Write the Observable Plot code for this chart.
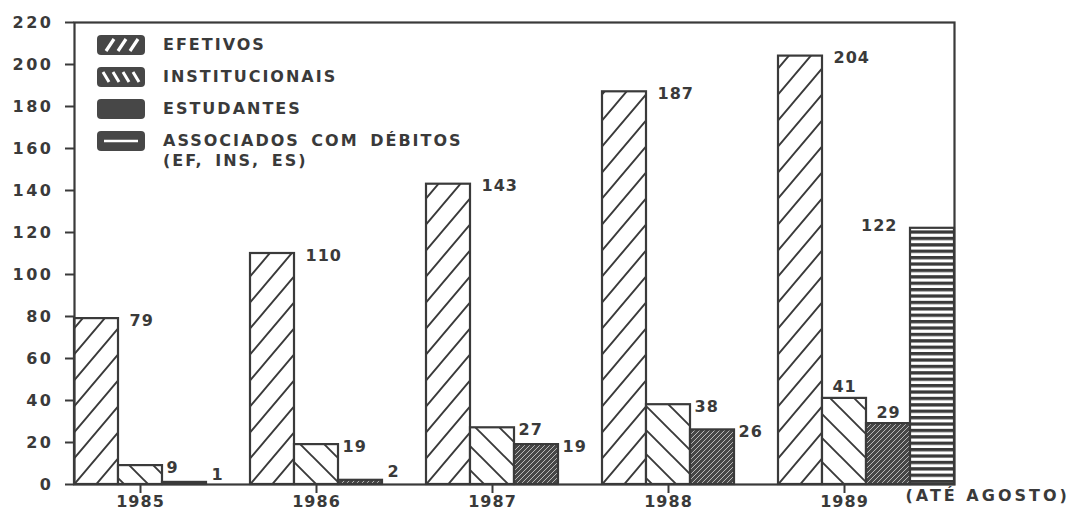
<!DOCTYPE html>
<html><head><meta charset="utf-8">
<script src="https://cdn.jsdelivr.net/npm/d3@7"></script>
<script src="https://cdn.jsdelivr.net/npm/@observablehq/plot@0.6"></script>
<style>
html,body{margin:0;padding:0;background:#fff;}
#wrap{position:relative;width:1079px;height:518px;}
#chart svg text{letter-spacing:1px;}
#chart svg g[aria-label="y-axis tick label"] text{letter-spacing:2.5px;}
#legend{position:absolute;left:97px;top:35px;}
#legend .lg-swatches{display:flex;flex-direction:column;align-items:flex-start;gap:12px;margin:0;min-height:0;font:bold 16px "DejaVu Sans",sans-serif;color:#3a3a3a;letter-spacing:2px;}
#legend .lg-swatch{display:flex;align-items:flex-start;margin:0;line-height:20px;white-space:pre;word-spacing:4px;}
#legend .lg-swatch>svg{margin-right:18px;}
#legend rect{rx:4px;ry:4px;}
</style></head>
<body>
<svg width="0" height="0" style="position:absolute">
<defs>
<pattern id="pEf" patternUnits="userSpaceOnUse" width="22" height="26">
<rect width="22" height="26" fill="#fff"/>
<path d="M0,26L22,0M-3,3.55L3,-3.55M19,29.55L25,22.45" stroke="#3a3a3a" stroke-width="1.9" fill="none"/>
</pattern>
<pattern id="pIn" patternUnits="userSpaceOnUse" width="24" height="24">
<rect width="24" height="24" fill="#fff"/>
<path d="M0,0L24,24M21,-3L27,3M-3,21L3,27" stroke="#3a3a3a" stroke-width="1.9" fill="none"/>
</pattern>
<pattern id="pEs" patternUnits="userSpaceOnUse" width="5" height="5">
<rect width="5" height="5" fill="#474747"/>
<path d="M0,5L5,0M-1,1L1,-1M4,6L6,4" stroke="#fff" stroke-width="0.9" stroke-opacity="0.7" fill="none"/>
</pattern>
<pattern id="pAs" patternUnits="userSpaceOnUse" width="10" height="6.4">
<rect width="10" height="6.4" fill="#fff"/>
<rect width="10" height="3.3" fill="#3a3a3a"/>
</pattern>
<pattern id="lgEf" patternUnits="userSpaceOnUse" width="48" height="20">
<rect width="48" height="20" fill="#474747"/>
<path d="M9,16L17,4M21,16L29,4M33,16L41,4" stroke="#fff" stroke-width="3.2" fill="none"/>
</pattern>
<pattern id="lgIn" patternUnits="userSpaceOnUse" width="48" height="20">
<rect width="48" height="20" fill="#474747"/>
<path d="M6,5L12,15M16,5L22,15M26,5L32,15M36,5L42,15" stroke="#fff" stroke-width="3" fill="none"/>
</pattern>
<pattern id="lgEs" patternUnits="userSpaceOnUse" width="48" height="20">
<rect width="48" height="20" fill="#474747"/>
</pattern>
<pattern id="lgAs" patternUnits="userSpaceOnUse" width="48" height="20">
<rect width="48" height="20" fill="#474747"/>
<path d="M7,10L41,10" stroke="#fff" stroke-width="2.5" fill="none"/>
</pattern>
</defs>
</svg>
<div id="wrap"><div id="chart"></div><div id="legend"></div></div>
<script>
const years = ["1985", "1986", "1987", "1988", "1989"];
const categories = ["EFETIVOS", "INSTITUCIONAIS", "ESTUDANTES", "ASSOCIADOS COM DÉBITOS\n(EF, INS, ES)"];
const efetivos = [79, 110, 143, 187, 204];
const institucionais = [9, 19, 27, 38, 41];
const estudantes = [1, 2, 19, 26, 29];
const associados = [null, null, null, null, 122];
const yTicks = [0, 20, 40, 60, 80, 100, 120, 140, 160, 180, 200, 220];
const note = "(ATÉ AGOSTO)";

const fills = ["url(#pEf)", "url(#pIn)", "url(#pEs)", "url(#pAs)"];
const legendFills = ["url(#lgEf)", "url(#lgIn)", "url(#lgEs)", "url(#lgAs)"];
const ink = "#3a3a3a";

const series = [efetivos, institucionais, estudantes, associados];
const key = (y, c) => y + "|" + c;
const slots = years.flatMap(y => categories.map(c => key(y, c)));
const rows = years.flatMap((yr, i) => categories.map((c, j) => ({
  year: yr, cat: c, ci: j, value: series[j][i], key: key(yr, c)
}))).filter(d => d.value != null);

const last = years[years.length - 1];
const isAbove = d => d.year === last && (d.ci === 1 || d.ci === 2);
const isLeft = d => d.year === last && d.ci === 3;
const isRight = d => !isAbove(d) && !isLeft(d);
const txt = d => String(d.value);

const chart = Plot.plot({
  width: 1079, height: 518,
  marginLeft: 74, marginRight: 125, marginTop: 22, marginBottom: 34,
  style: {fontFamily: '"DejaVu Sans", sans-serif', fontSize: "16px", fontWeight: "bold", color: ink, background: "#fff", overflow: "visible"},
  x: {type: "band", domain: slots, padding: 0},
  y: {domain: [0, 220]},
  color: {type: "ordinal", domain: categories, range: fills},
  marks: [
    Plot.barY(rows, {x: "key", y: "value", fill: "cat", stroke: ink, strokeWidth: 2.2}),
    Plot.frame({stroke: ink, strokeWidth: 2.2}),
    Plot.axisY({ticks: yTicks, tickSize: 9, tickPadding: 12, label: null, strokeWidth: 2, fontSize: 16}),
    Plot.axisX({ticks: years.map(y => key(y, categories[1])), tickFormat: k => k.split("|")[0], tickSize: 9, tickPadding: 2, label: null, strokeWidth: 2, fontSize: 16}),
    Plot.text(rows.filter(d => isRight(d) && d.ci === 0), {x: "key", y: "value", text: txt, textAnchor: "start", dx: 33, dy: 2, fill: ink}),
    Plot.text(rows.filter(d => isRight(d) && d.ci > 0 && d.value >= 5), {x: "key", y: "value", text: txt, textAnchor: "start", dx: 26, dy: 2, fill: ink}),
    Plot.text(rows.filter(d => isRight(d) && d.value < 5), {x: "key", y: "value", text: txt, textAnchor: "start", dx: 27, dy: -8, fill: ink}),
    Plot.text(rows.filter(isAbove), {x: "key", y: "value", text: txt, lineAnchor: "bottom", dy: -6, fill: ink}),
    Plot.text(rows.filter(isLeft), {x: "key", y: "value", text: txt, textAnchor: "end", dx: -35, dy: -2, fill: ink}),
    Plot.text([note], {text: d => d, frameAnchor: "bottom-right", textAnchor: "start", dx: -49, dy: 16, fill: ink})
  ]
});
d3.select(chart).selectAll("text")
  .filter(function () { return this.textContent === note; })
  .style("letter-spacing", "3px");
document.getElementById("chart").appendChild(chart);

const legend = Plot.legend({
  color: {type: "ordinal", domain: categories, range: legendFills},
  className: "lg",
  swatchWidth: 48,
  swatchHeight: 20
});
document.getElementById("legend").appendChild(legend);
</script>
</body></html>
